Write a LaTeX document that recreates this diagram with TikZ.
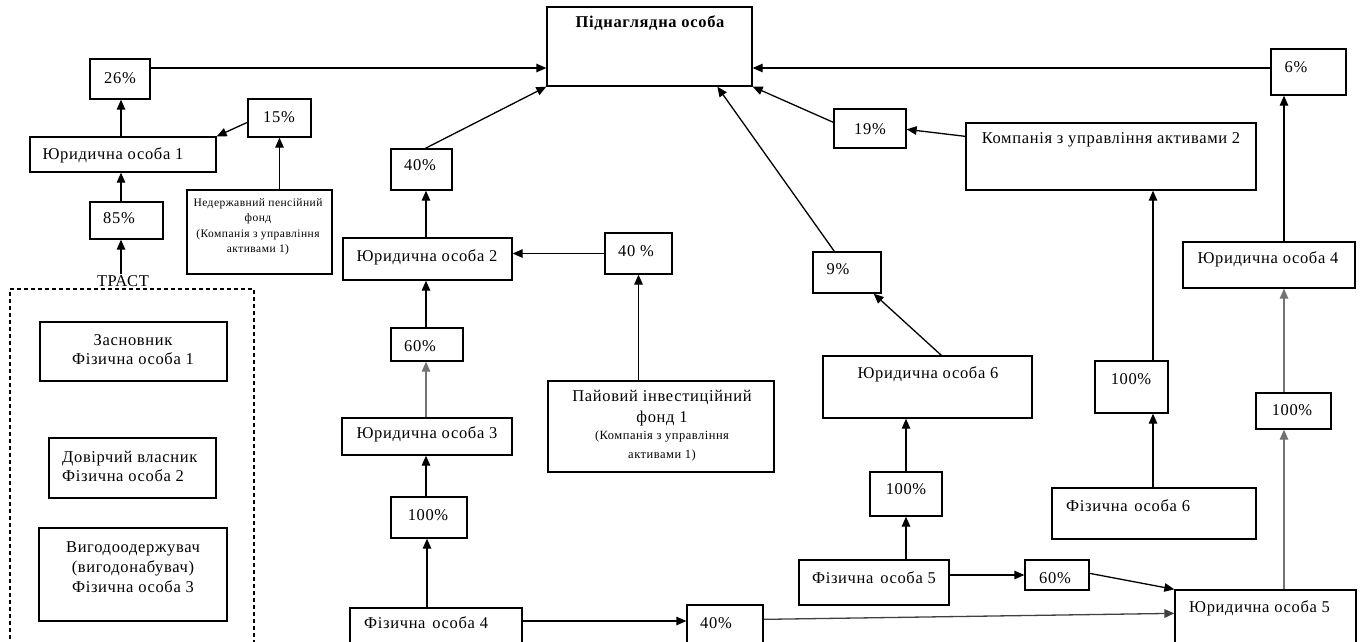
\documentclass[tikz,border=0pt]{standalone}
\usepackage{fontspec}
\setmainfont[LetterSpace=4]{Liberation Serif}
\usetikzlibrary{arrows.meta,fit}
\begin{document}
\begin{tikzpicture}[x=1pt,y=-1pt,
  bx/.style={draw, line width=1.3pt, inner sep=0pt},
  dbx/.style={draw, line width=1.1pt, inner sep=0pt, dash pattern=on 4pt off 3pt},
  tx/.style={inner sep=0pt, font=\fontsize{16.5}{19}\selectfont, align=center},
  smx/.style={inner sep=0pt, font=\fontsize{11.5}{15.5}\selectfont, align=center},
  arr/.style={line width=1.3pt, -{Triangle[length=10pt,width=8.5pt]}},
  gry/.style={draw=black!55}
]
\useasboundingbox (0,0) rectangle (1362,641);
\clip (0,0) rectangle (1362,641);
% helper coordinates
\coordinate (yl) at (0,68);
\coordinate (yb) at (0,621);
\coordinate (c121) at (121,0);
\coordinate (c426) at (426,0);
\coordinate (c427) at (427,0);
\coordinate (c1153) at (1153,0);
\coordinate (c1284) at (1284,0);

% ---------- boxes ----------
\node[bx, fit={(547,7)(752,86)}] (sup) {};
\node[bx, fit={(90,59)(150,99)}] (p26) {};
\node[bx, fit={(248,99)(311,137)}] (p15) {};
\node[bx, fit={(30,137)(216,172)}] (jo1) {};
\node[bx, fit={(90,202)(163,239)}] (p85) {};
\node[bx, fit={(187,190)(332,274)}] (nepf) {};
\node[dbx, fit={(10,289)(254,680)}] (trust) {};
\node[bx, fit={(40,322)(227,381)}] (zas) {};
\node[bx, fit={(49,438)(216,498)}] (dov) {};
\node[bx, fit={(39,528)(227,621)}] (vyh) {};
\node[bx, fit={(391,149)(452,190)}] (p40a) {};
\node[bx, fit={(343,238)(512,280)}] (jo2) {};
\node[bx, fit={(605,233)(672,274)}] (p40b) {};
\node[bx, fit={(391,328)(463,361)}] (p60) {};
\node[bx, fit={(342,418)(512,455)}] (jo3) {};
\node[bx, fit={(548,381)(774,472)}] (pif) {};
\node[bx, fit={(391,497)(467,538)}] (p100a) {};
\node[bx, fit={(350,608)(522,680)}] (fo4) {};
\node[bx, fit={(687,605)(763,680)}] (p40c) {};
\node[bx, fit={(834,109)(906,148)}] (p19) {};
\node[bx, fit={(966,123)(1256,190)}] (komp2) {};
\node[bx, fit={(1271,49)(1346,95)}] (p6) {};
\node[bx, fit={(813,252)(881,293)}] (p9) {};
\node[bx, fit={(823,356)(1032,418)}] (jo6) {};
\node[bx, fit={(870,472)(942,516)}] (p100b) {};
\node[bx, fit={(799,560)(949,605)}] (fo5) {};
\node[bx, fit={(1025,560)(1089,590)}] (p60b) {};
\node[bx, fit={(1175,590)(1356,680)}] (jo5) {};
\node[bx, fit={(1095,361)(1168,413)}] (p100c) {};
\node[bx, fit={(1052,488)(1256,539)}] (fo6) {};
\node[bx, fit={(1256,393)(1331,429)}] (p100d) {};
\node[bx, fit={(1183,242)(1355,288)}] (jo4) {};

% ---------- texts ----------
\node[tx, font=\fontsize{16.5}{19}\selectfont\bfseries] (t-sup) at (650,23) {Піднаглядна особа};
\node[tx] (t-p26) at (120,78) {26\%};
\node[tx] (t-p15) at (279,117) {15\%};
\node[tx] (t-jo1) at (113,155) {Юридична особа 1};
\node[tx] (t-p85) at (119,218) {85\%};
\node[smx] (t-nepf) at (258,227) {Недержавний пенсійний\\фонд\\(Компанія з управління\\активами 1)};
\node[tx] (t-trust) at (123,281) {ТРАСТ};
\node[tx] (t-zas) at (133,350) {Засновник\\Фізична особа 1};
\node[tx, anchor=west, align=left] (t-dov) at (62,466) {Довірчий власник\\Фізична особа 2};
\node[tx, font=\fontsize{16.5}{20}\selectfont] (t-vyh) at (133,567) {Вигодоодержувач\\(вигодонабувач)\\Фізична особа 3};
\node[tx] (t-p40a) at (420,165) {40\%};
\node[tx] (t-jo2) at (427,257) {Юридична особа 2};
\node[tx] (t-p40b) at (636,251) {40 \%};
\node[tx] (t-p60) at (420,346) {60\%};
\node[tx] (t-jo3) at (427,434) {Юридична особа 3};
\node[tx, font=\fontsize{16.5}{21}\selectfont] (t-pifa) at (662,408.5) {Пайовий інвестиційний\\фонд 1};
\node[smx, font=\fontsize{12.5}{19}\selectfont] (t-pifb) at (662,445.5) {(Компанія з управління\\активами 1)};
\node[tx] (t-p100a) at (428,515) {100\%};
\node[tx, anchor=west] (t-fo4) at (364,623) {Фізична\hspace{2pt} особа 4};
\node[tx, anchor=west] (t-p40c) at (700,623) {40\%};
\node[tx] (t-p19) at (870,129) {19\%};
\node[tx] (t-komp2) at (1111,140) {Компанія з управління активами 2};
\node[tx] (t-p6) at (1296,67) {6\%};
\node[tx] (t-p9) at (838,269) {9\%};
\node[tx] (t-jo6) at (928,374) {Юридична особа 6};
\node[tx] (t-p100b) at (906,489) {100\%};
\node[tx] (t-fo5) at (874,578) {Фізична\hspace{2pt} особа 5};
\node[tx] (t-p60b) at (1055,578) {60\%};
\node[tx, anchor=west] (t-jo5) at (1189,608) {Юридична особа 5};
\node[tx] (t-p100c) at (1131,379) {100\%};
\node[tx, anchor=west] (t-fo6) at (1066,506) {Фізична\hspace{2pt} особа 6};
\node[tx] (t-p100d) at (1292,410) {100\%};
\node[tx] (t-jo4) at (1268,259) {Юридична особа 4};

% ---------- connectors ----------
\draw[arr] (p26.east |- yl) -- (sup.west |- yl);
\draw[arr] (p6.west |- yl) -- (sup.east |- yl);
\draw[arr] (jo1.north -| c121) -- (p26.south -| c121);
\draw[arr] ([yshift=-24pt]p15.north west) -- (jo1.north east);
\draw[arr] (nepf.north -| p15.south) -- (p15.south);
\draw[arr] ([yshift=1pt]t-trust.north -| c121) -- (p85.south -| c121);
\draw[arr] (p85.north -| c121) -- (jo1.south -| c121);
\draw[arr] ([xshift=35pt]p40a.north west) -- (sup.south west);
\draw[arr] (jo2.north -| c426) -- (p40a.south -| c426);
\draw[arr] (p40b.west) -- (jo2.east |- p40b.west);
\draw[arr] (pif.north -| p40b.south) -- (p40b.south);
\draw[arr, gry] (jo3.north -| c426) -- (p60.south -| c426);
\draw[arr] (p60.north -| c426) -- (jo2.south -| c426);
\draw[arr] (p100a.north -| c426) -- (jo3.south -| c426);
\draw[arr] (fo4.north -| c427) -- (p100a.south -| c427);
\draw[arr] (fo4.east |- yb) -- (p40c.west |- yb);
\draw[arr, draw=black!75] ([yshift=-15pt]p40c.north east) -- ([yshift=-24pt]jo5.north west);
\draw[arr] ([yshift=-14pt]p60b.north east) -- (jo5.north west);
\draw[arr] (fo5.east |- p60b.west) -- (p60b.west);
\draw[arr] (fo5.north -| p100b.south) -- (p100b.south);
\draw[arr] (p100b.north) -- (jo6.south -| p100b.north);
\draw[arr] ([xshift=119pt]jo6.north west) -- ([xshift=-8pt]p9.south east);
\draw[arr] ([xshift=22pt]p9.north west) -- ([xshift=171pt]sup.south west);
\draw[arr] ([yshift=-14pt]p19.north west) -- (sup.south east);
\draw[arr] ([yshift=-14pt]komp2.north west) -- ([yshift=-21pt]p19.north east);
\draw[arr] (p100c.north -| c1153) -- (komp2.south -| c1153);
\draw[arr] (fo6.north -| c1153) -- (p100c.south -| c1153);
\draw[arr, gry] (jo5.north -| c1284) -- (p100d.south -| c1284);
\draw[arr, gry] (p100d.north -| c1284) -- (jo4.south -| c1284);
\draw[arr] (jo4.north -| c1284) -- (p6.south -| c1284);
\end{tikzpicture}
\end{document}
